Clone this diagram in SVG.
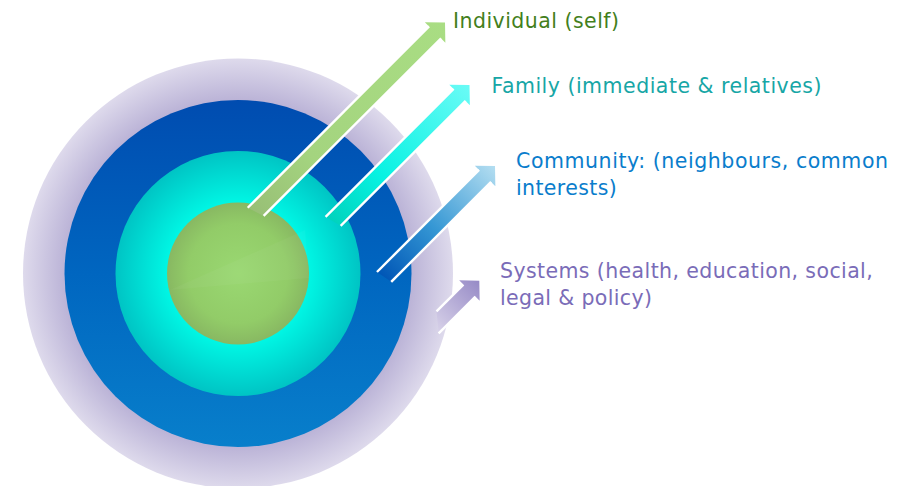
<svg xmlns="http://www.w3.org/2000/svg" width="906" height="486" viewBox="0 0 906 486">
  <defs>
    <radialGradient id="gOuter" cx="238" cy="273.5" r="215" gradientUnits="userSpaceOnUse">
      <stop offset="0.78" stop-color="#b6aed4"/>
      <stop offset="1" stop-color="#dedaec"/>
    </radialGradient>
    <linearGradient id="gBlue" x1="0" y1="0" x2="0" y2="1">
      <stop offset="0" stop-color="#004cb0"/>
      <stop offset="0.5" stop-color="#0066c0"/>
      <stop offset="1" stop-color="#087fcb"/>
    </linearGradient>
    <radialGradient id="gTeal" cx="238" cy="273.5" r="122.5" gradientUnits="userSpaceOnUse">
      <stop offset="0.58" stop-color="#00f6e4"/>
      <stop offset="1" stop-color="#00c4c4"/>
    </radialGradient>
    <radialGradient id="gGreen" cx="238" cy="273.5" r="71" gradientUnits="userSpaceOnUse">
      <stop offset="0" stop-color="#9ad872"/>
      <stop offset="0.7" stop-color="#92cc68"/>
      <stop offset="1" stop-color="#88b862"/>
    </radialGradient>
    <linearGradient id="aGreen" x1="0" y1="0" x2="1" y2="0">
      <stop offset="0" stop-color="#98bf76"/>
      <stop offset="0.3" stop-color="#a4d47f"/>
      <stop offset="1" stop-color="#a9dd83"/>
    </linearGradient>
    <linearGradient id="aCyan" x1="0" y1="0" x2="1" y2="0">
      <stop offset="0" stop-color="#00d2bc"/>
      <stop offset="0.35" stop-color="#08f2e2"/>
      <stop offset="1" stop-color="#6afbf6"/>
    </linearGradient>
    <linearGradient id="aBlue" x1="0" y1="0" x2="1" y2="0">
      <stop offset="0" stop-color="#0056b6"/>
      <stop offset="0.45" stop-color="#3597d4"/>
      <stop offset="1" stop-color="#b4def1"/>
    </linearGradient>
    <linearGradient id="aPurple" x1="0" y1="0" x2="1" y2="0">
      <stop offset="0" stop-color="#d8d2e9"/>
      <stop offset="1" stop-color="#968ac6"/>
    </linearGradient>
  </defs>
  <style>
    .edge { stroke: #ffffff; stroke-width: 2.4; stroke-linecap: butt; fill: none; }
    .lbl { font-family: "DejaVu Sans", "Open Sans", sans-serif; font-size: 20.5px; }
  </style>
  <rect width="906" height="486" fill="#ffffff"/>

  <g id="ring-systems"><circle cx="238" cy="273.5" r="215" fill="url(#gOuter)"/></g>
  <g id="ring-community"><circle cx="238" cy="273.5" r="173.5" fill="url(#gBlue)"/></g>
  <g id="ring-family"><circle cx="238" cy="273.5" r="122.5" fill="url(#gTeal)"/></g>
  <g id="ring-individual">
    <circle cx="238" cy="273.5" r="71" fill="url(#gGreen)"/>
    <polygon points="170,290 305,230 309,278" fill="#ffffff" opacity="0.035"/>
  </g>

  <g id="connectors">
    <g id="arrow-individual" transform="translate(445,22.5) rotate(-45)">
      <polygon points="0,0 -14,-14.5 -14,-8.5 -270.5,-8.5 -265,8.5 -14,8.5 -14,14.5" fill="url(#aGreen)"/>
      <line class="edge" x1="-270.5" y1="-8.5" x2="-14" y2="-8.5"/>
      <line class="edge" x1="-265" y1="8.5" x2="-14" y2="8.5"/>
    </g>
    <g id="arrow-family" transform="translate(469.5,85) rotate(-45)">
      <polygon points="0,0 -14,-14.5 -14,-8.5 -195,-8.5 -190.7,8.5 -14,8.5 -14,14.5" fill="url(#aCyan)"/>
      <line class="edge" x1="-195" y1="-8.5" x2="-14" y2="-8.5"/>
      <line class="edge" x1="-190.7" y1="8.5" x2="-14" y2="8.5"/>
    </g>
    <g id="arrow-community" transform="translate(495,166) rotate(-45)">
      <polygon points="0,0 -14,-14.5 -14,-8.5 -158.4,-8.5 -155.3,8.5 -14,8.5 -14,14.5" fill="url(#aBlue)"/>
      <line class="edge" x1="-158.4" y1="-8.5" x2="-14" y2="-8.5"/>
      <line class="edge" x1="-155.3" y1="8.5" x2="-14" y2="8.5"/>
    </g>
    <g id="arrow-systems" transform="translate(479.3,280.7) rotate(-45)">
      <polygon points="0,0 -14,-14.5 -14,-8.5 -52,-8.5 -66,8.5 -14,8.5 -14,14.5" fill="url(#aPurple)"/>
      <line class="edge" x1="-52" y1="-8.5" x2="-14" y2="-8.5"/>
      <line class="edge" x1="-66" y1="8.5" x2="-14" y2="8.5"/>
    </g>
  </g>

  <g id="label-individual">
    <text class="lbl" x="453" y="28.3" fill="#437f1c" textLength="166">Individual (self)</text>
  </g>
  <g id="label-family">
    <text class="lbl" x="491.5" y="93.3" fill="#17a6a6" textLength="330">Family (immediate &amp; relatives)</text>
  </g>
  <g id="label-community">
    <text class="lbl" x="516" y="168.3" fill="#0a7dcc" textLength="372">Community: (neighbours, common</text>
    <text class="lbl" x="516" y="195" fill="#0a7dcc" textLength="100.7">interests)</text>
  </g>
  <g id="label-systems">
    <text class="lbl" x="500" y="278.3" fill="#7a6cb8" textLength="372.7">Systems (health, education, social,</text>
    <text class="lbl" x="500" y="305" fill="#7a6cb8" textLength="152">legal &amp; policy)</text>
  </g>
</svg>
